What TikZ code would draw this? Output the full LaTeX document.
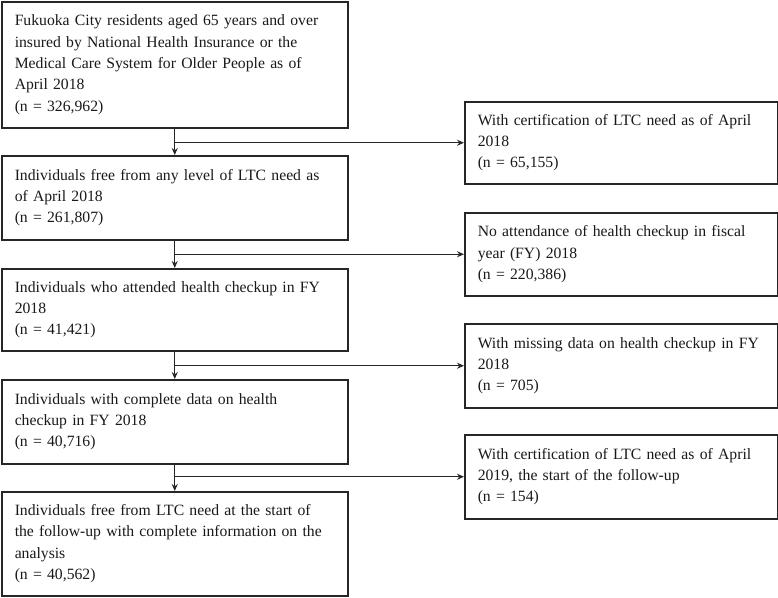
\documentclass[tikz,border=0pt]{standalone}
\usepackage{fontspec}
\setmainfont{Liberation Serif}
\usepackage{tikz}
\usetikzlibrary{arrows.meta}

\tikzset{
  flowbox/.style={draw=black!85, line width=1.5pt, rectangle, align=left,
    inner xsep=13pt, inner ysep=0pt, anchor=north west, text=black!90,
    font=\fontsize{15.7}{21.3}\selectfont},
  leftbox/.style={flowbox, text width=320pt},
  rightbox/.style={flowbox, text width=287pt},
  flowarrow/.style={-{Stealth[length=7pt, width=6pt]}, draw=black!85, line width=1.4pt}
}

\begin{document}
\begin{tikzpicture}
        \useasboundingbox (0,0) rectangle (778pt,-597pt);
        % Main column
        \node[leftbox, minimum height=126pt] (L1) at (1pt,-1pt) {Fukuoka City residents aged 65 years and over\\insured by National Health Insurance or the\\Medical Care System for Older People as of\\April 2018\\(n = 326,962)};
        \node[leftbox, minimum height=84pt] (L2) at (1pt,-155pt) {Individuals free from any level of LTC need as\\of April 2018\\(n = 261,807)};
        \node[leftbox, minimum height=82pt] (L3) at (1pt,-268pt) {Individuals who attended health checkup in FY\\2018\\(n = 41,421)};
        \node[leftbox, minimum height=84pt] (L4) at (1pt,-379pt) {Individuals with complete data on health\\checkup in FY 2018\\(n = 40,716)};
        \node[leftbox, minimum height=104pt] (L5) at (1pt,-491pt) {Individuals free from LTC need at the start of\\the follow-up with complete information on the\\analysis\\(n = 40,562)};
        % Exclusions
        \node[rightbox, minimum height=82pt] (R1) at (464pt,-101pt) {With certification of LTC need as of April\\2018\\(n = 65,155)};
        \node[rightbox, minimum height=83pt] (R2) at (464pt,-212pt) {No attendance of health checkup in fiscal\\year (FY) 2018\\(n = 220,386)};
        \node[rightbox, minimum height=84pt] (R3) at (464pt,-323pt) {With missing data on health checkup in FY\\2018\\(n = 705)};
        \node[rightbox, minimum height=84pt] (R4) at (464pt,-434pt) {With certification of LTC need as of April\\2019, the start of the follow-up\\(n = 154)};
        % Arrows down and branches out
        \foreach \a/\b/\r in {L1/L2/R1, L2/L3/R2, L3/L4/R3, L4/L5/R4}{
            \draw[flowarrow] (\a.south) -- (\b.north);
            \draw[flowarrow] (\a.south |- \r.west) -- (\r.west);
        }
    \end{tikzpicture}
\end{document}
